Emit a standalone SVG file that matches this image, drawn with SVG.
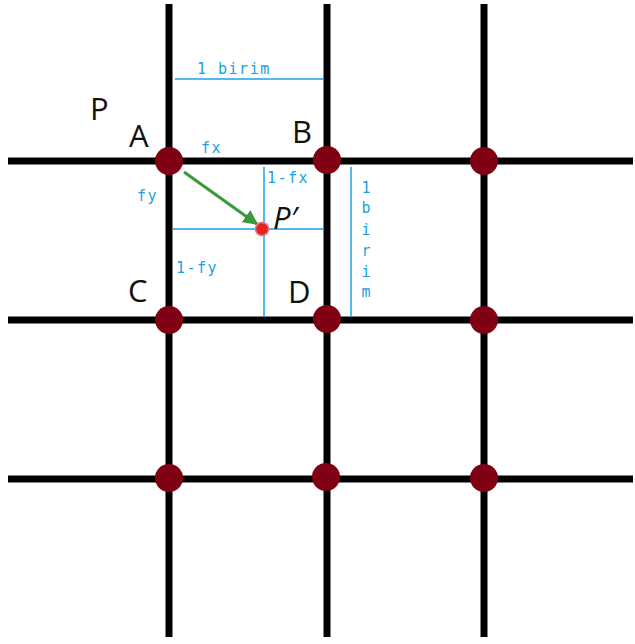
<svg xmlns="http://www.w3.org/2000/svg" width="635" height="644" viewBox="0 0 635 644">
<defs>
<style>
.grid{stroke:#000;stroke-width:7;fill:none}
.node{fill:#800014}
.blue{stroke:#1aa0e6;stroke-width:1.5;fill:none}
.bt{font-family:"DejaVu Sans Mono","Liberation Mono",monospace;font-size:15px;letter-spacing:1.5px;fill:#1aa0e6}
.lbl{font-family:"Open Sans","Liberation Sans",sans-serif;font-size:31px;fill:#111}
</style>
<marker id="ah" viewBox="0 0 10 10" refX="9" refY="5" markerWidth="5" markerHeight="5" orient="auto">
<path d="M0,0 L10,5 L0,10 z" fill="#3a9a3a"/>
</marker>
</defs>
<rect width="635" height="644" fill="#fff"/>
<g id="connectors">
<line class="grid" x1="169" y1="4" x2="169" y2="637"/>
<line class="grid" x1="327" y1="4" x2="327" y2="637"/>
<line class="grid" x1="484" y1="4" x2="484" y2="637"/>
<line class="grid" x1="8" y1="161" x2="633" y2="161"/>
<line class="grid" x1="8" y1="320" x2="633" y2="320"/>
<line class="grid" x1="8" y1="479" x2="633" y2="479"/>
<line class="blue" x1="175" y1="79" x2="323" y2="79"/>
<line class="blue" x1="173" y1="229" x2="323" y2="229"/>
<line class="blue" x1="264" y1="167" x2="264" y2="317"/>
<line class="blue" x1="351" y1="167" x2="351" y2="317"/>
<line x1="184" y1="172" x2="257" y2="224" stroke="#3a9a3a" stroke-width="3" marker-end="url(#ah)"/>
</g>
<g id="nodes">
<circle class="node" cx="169" cy="161" r="14"/>
<circle class="node" cx="327" cy="160" r="14"/>
<circle class="node" cx="484" cy="161" r="14"/>
<circle class="node" cx="169" cy="320" r="14"/>
<circle class="node" cx="327" cy="319" r="14"/>
<circle class="node" cx="484" cy="320" r="14"/>
<circle class="node" cx="169" cy="478" r="14"/>
<circle class="node" cx="326" cy="477" r="14"/>
<circle class="node" cx="484" cy="478" r="14"/>
</g>
<g id="pprime">
<circle cx="262" cy="229" r="6.5" fill="#e02424" stroke="#f07070" stroke-width="1.5"/>
<text x="273" y="229" class="lbl" font-style="italic">P′</text>
</g>
<g id="labels">
<text x="90" y="120" class="lbl">P</text>
<text x="129" y="147" class="lbl">A</text>
<text x="292" y="143" class="lbl">B</text>
<text x="128" y="302" class="lbl">C</text>
<text x="288" y="303" class="lbl">D</text>
<text x="197" y="74" class="bt">1 birim</text>
<text x="201" y="153" class="bt">fx</text>
<text x="137" y="201" class="bt">fy</text>
<text x="267" y="183" class="bt">1-fx</text>
<text x="176" y="273" class="bt">1-fy</text>
<g class="bt" text-anchor="middle" style="letter-spacing:0">
<text x="366" y="193">1</text>
<text x="366" y="213">b</text>
<text x="366" y="235">i</text>
<text x="366" y="256">r</text>
<text x="366" y="277">i</text>
<text x="366" y="297">m</text>
</g>
</g>
</svg>
